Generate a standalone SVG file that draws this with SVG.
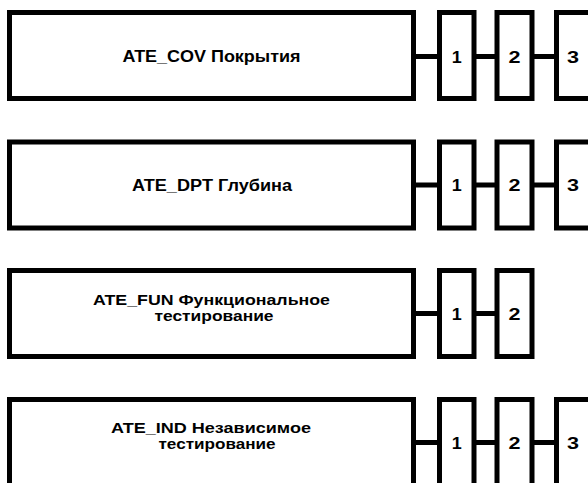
<svg xmlns="http://www.w3.org/2000/svg" width="588" height="483" viewBox="0 0 588 483">
<style>
.box{fill:#fff;stroke:#000;stroke-width:5}
.con{stroke:#000;stroke-width:5;fill:none}
.t{font-family:"Liberation Sans",Arial,sans-serif;font-weight:bold;fill:#000;text-anchor:middle}
.big{font-size:16px}
.sm{font-size:14px}
.num{font-size:17px}
</style>
<rect width="588" height="483" fill="#fff"/>
<g id="connectors">
<path class="con" d="M413.5 56.5H439.5M474 56.5H497M532 56.5H556.5"/>
<path class="con" d="M413.5 185H439.5M474 185H497M532 185H556.5"/>
<path class="con" d="M413.5 313.5H439.5M474 313.5H497"/>
<path class="con" d="M413.5 442.5H439.5M474 442.5H497M532 442.5H556.5"/>
</g>
<g id="row1">
<g id="ATE_COV"><rect class="box" x="9.5" y="12.5" width="404" height="86"/><text class="t big" x="211.5" y="62" textLength="178" lengthAdjust="spacingAndGlyphs">ATE_COV Покрытия</text></g>
<g id="cov1"><rect class="box" x="439.5" y="12.5" width="34.5" height="86"/><text class="t num" x="456.75" y="62.5" textLength="10" lengthAdjust="spacingAndGlyphs">1</text></g>
<g id="cov2"><rect class="box" x="497" y="12.5" width="35" height="86"/><text class="t num" x="514.5" y="62.5" textLength="12" lengthAdjust="spacingAndGlyphs">2</text></g>
<g id="cov3"><rect class="box" x="556.5" y="12.5" width="40" height="86"/><text class="t num" x="573" y="62.5" textLength="12" lengthAdjust="spacingAndGlyphs">3</text></g>
</g>
<g id="row2">
<g id="ATE_DPT"><rect class="box" x="9.5" y="142" width="404" height="86"/><text class="t big" x="212" y="190.5" textLength="160" lengthAdjust="spacingAndGlyphs">ATE_DPT Глубина</text></g>
<g id="dpt1"><rect class="box" x="439.5" y="142" width="34.5" height="86"/><text class="t num" x="456.75" y="191" textLength="10" lengthAdjust="spacingAndGlyphs">1</text></g>
<g id="dpt2"><rect class="box" x="497" y="142" width="35" height="86"/><text class="t num" x="514.5" y="191" textLength="12" lengthAdjust="spacingAndGlyphs">2</text></g>
<g id="dpt3"><rect class="box" x="556.5" y="142" width="40" height="86"/><text class="t num" x="573" y="191" textLength="12" lengthAdjust="spacingAndGlyphs">3</text></g>
</g>
<g id="row3">
<g id="ATE_FUN"><rect class="box" x="9.5" y="270.5" width="404" height="86"/><text class="t sm" x="211.5" y="305" textLength="237" lengthAdjust="spacingAndGlyphs">ATE_FUN Функциональное</text><text class="t sm" x="214" y="321" textLength="119" lengthAdjust="spacingAndGlyphs">тестирование</text></g>
<g id="fun1"><rect class="box" x="439.5" y="270.5" width="34.5" height="86"/><text class="t num" x="456.75" y="319.5" textLength="10" lengthAdjust="spacingAndGlyphs">1</text></g>
<g id="fun2"><rect class="box" x="497" y="270.5" width="35" height="86"/><text class="t num" x="514.5" y="319.5" textLength="12" lengthAdjust="spacingAndGlyphs">2</text></g>
</g>
<g id="row4">
<g id="ATE_IND"><rect class="box" x="9.5" y="399.5" width="404" height="90"/><text class="t sm" x="211" y="433" textLength="200" lengthAdjust="spacingAndGlyphs">ATE_IND Независимое</text><text class="t sm" x="217" y="449" textLength="117" lengthAdjust="spacingAndGlyphs">тестирование</text></g>
<g id="ind1"><rect class="box" x="439.5" y="399.5" width="34.5" height="90"/><text class="t num" x="456.75" y="448.5" textLength="10" lengthAdjust="spacingAndGlyphs">1</text></g>
<g id="ind2"><rect class="box" x="497" y="399.5" width="35" height="90"/><text class="t num" x="514.5" y="448.5" textLength="12" lengthAdjust="spacingAndGlyphs">2</text></g>
<g id="ind3"><rect class="box" x="556.5" y="399.5" width="40" height="90"/><text class="t num" x="573" y="448.5" textLength="12" lengthAdjust="spacingAndGlyphs">3</text></g>
</g>
</svg>
